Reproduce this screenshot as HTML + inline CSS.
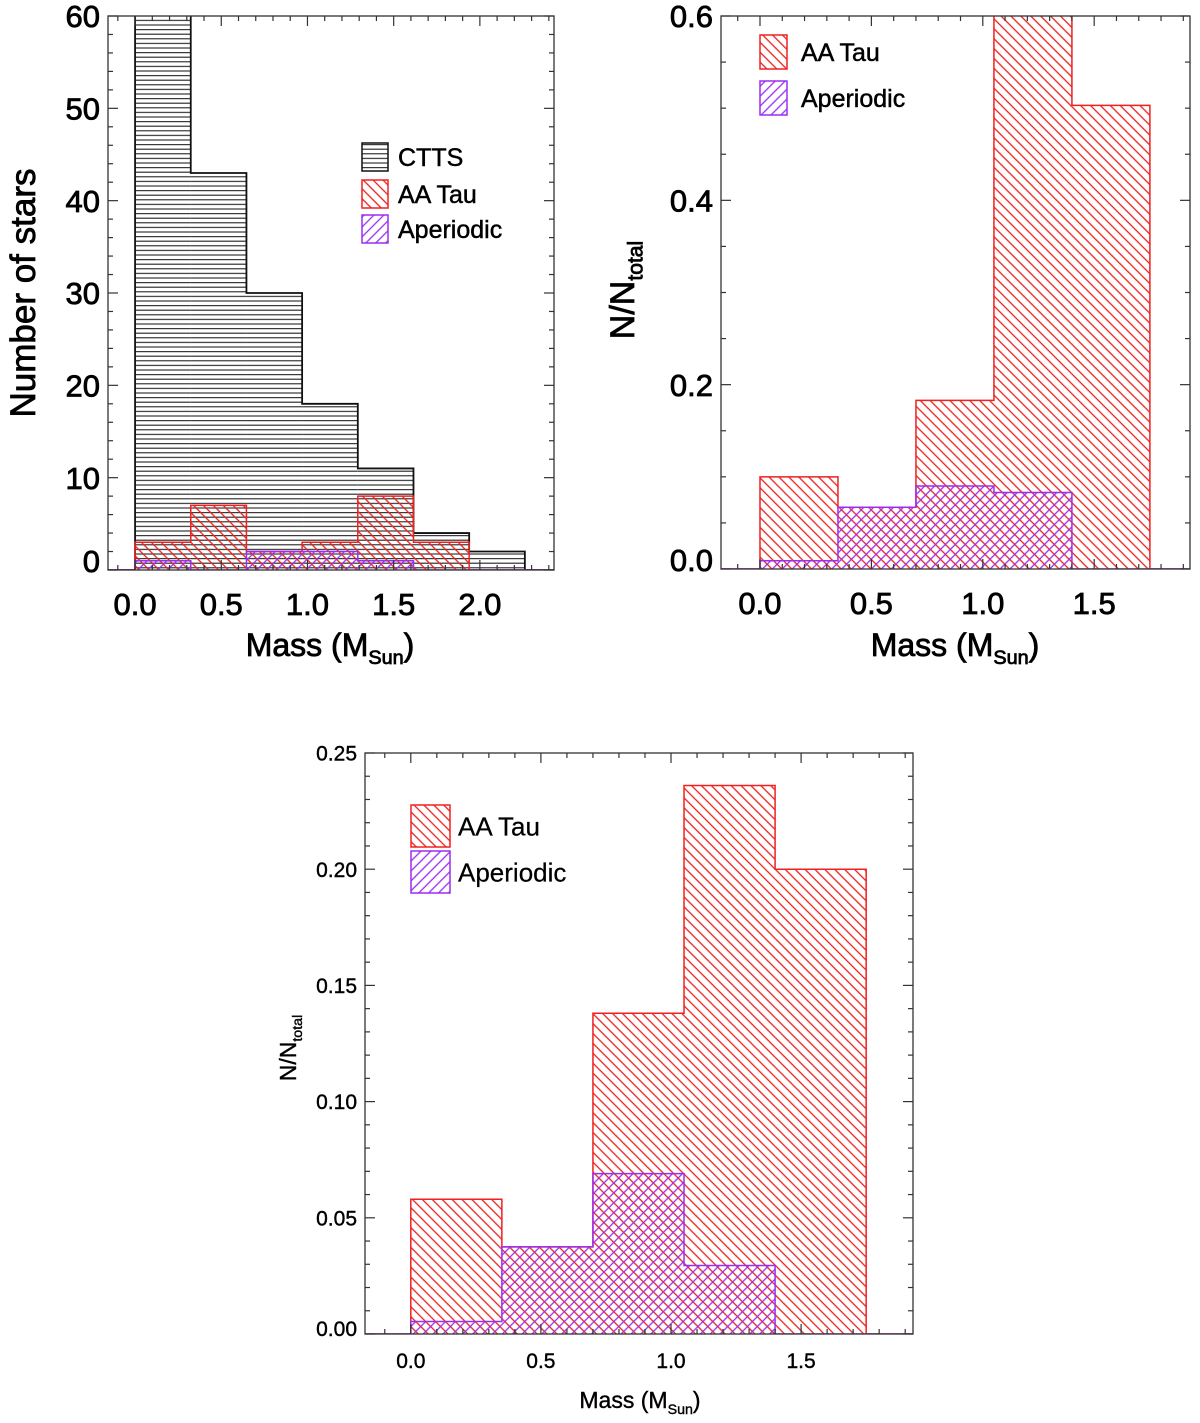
<!DOCTYPE html>
<html><head><meta charset="utf-8"><style>
html,body{margin:0;padding:0;background:#fff;}
svg{display:block;font-family:"Liberation Sans",Arial,sans-serif;}
</style></head><body>
<svg id="fig" width="1200" height="1423" viewBox="0 0 1200 1423" xmlns="http://www.w3.org/2000/svg">
<defs>
<pattern id="hH" patternUnits="userSpaceOnUse" width="8" height="4.6"><line x1="0" y1="2" x2="8" y2="2" stroke="#222" stroke-width="1.1"/></pattern>
<pattern id="hR" patternUnits="userSpaceOnUse" width="7" height="7" patternTransform="rotate(45)"><line x1="0" y1="3.5" x2="7" y2="3.5" stroke="#e8201c" stroke-width="1.3"/></pattern>
<pattern id="hP" patternUnits="userSpaceOnUse" width="7" height="7" patternTransform="rotate(-45)"><line x1="0" y1="3.5" x2="7" y2="3.5" stroke="#9a2ef0" stroke-width="1.3"/></pattern>
</defs>
</svg>
<script>
// Panel A (counts)
const edgesA = [0, 0.323, 0.646, 0.969, 1.292, 1.615, 1.938, 2.261];
const cttsA = [62, 43, 30, 18, 11, 4, 2];
const aatauA = [3, 7, 2, 3, 8, 3, 0];
const aperA = [1, 0, 2, 2, 1, 0, 0];
const yTicksA = [0, 10, 20, 30, 40, 50, 60];
const xTicksA = ["0.0", "0.5", "1.0", "1.5", "2.0"];
// Panel B (fractions)
const edgesB = [0, 0.35, 0.7, 1.05, 1.4, 1.75];
const aatauB = [0.1, 0.067, 0.183, 0.62, 0.503];
const aperB = [0.009, 0.067, 0.09, 0.083, 0];
const yTicksB = ["0.0", "0.2", "0.4", "0.6"];
const xTicksB = ["0.0", "0.5", "1.0", "1.5"];
// Panel C (fractions)
const edgesC = [0, 0.35, 0.7, 1.05, 1.4, 1.75];
const aatauC = [0.058, 0.0375, 0.138, 0.236, 0.2];
const aperC = [0.0054, 0.0375, 0.069, 0.0295, 0];
const yTicksC = ["0.00", "0.05", "0.10", "0.15", "0.20", "0.25"];
const xTicksC = ["0.0", "0.5", "1.0", "1.5"];

const NS = "http://www.w3.org/2000/svg";
const svg = document.getElementById('fig');
function mk(tag, attrs, parent) {
  const e = document.createElementNS(NS, tag);
  for (const k in attrs) e.setAttribute(k, attrs[k]);
  (parent || svg).appendChild(e);
  return e;
}

function panel(p) {
  const g = mk('g', {});
  
  
  const sx = v => p.L + (v - p.x0) / (p.x1 - p.x0) * (p.R - p.L);
  const sy = v => p.B - (v - p.y0) / (p.y1 - p.y0) * (p.B - p.T);
  const clipId = p.name + '-clip';
  const cp = mk('clipPath', { id: clipId }, g);
  mk('rect', { x: p.L, y: p.T, width: p.R - p.L, height: p.B - p.T }, cp);
  const plot = mk('g', { 'clip-path': 'url(#' + clipId + ')' }, g);

  function hist(edges, vals, fill, stroke, sw, nm) {
    const hg = mk('g', {}, plot);
    
    
    for (let i = 0; i < vals.length; i++) {
      if (vals[i] <= 0) continue;
      const x = sx(edges[i]), w = sx(edges[i + 1]) - x;
      const y = sy(vals[i]), h = sy(0) - y;
      const r = mk('rect', { x: x, y: y, width: w, height: h, fill: fill, stroke: 'none' }, hg);
      
      
    }
    let d = 'M' + sx(p.x0) + ' ' + sy(0) + ' L' + sx(edges[0]) + ' ' + sy(0);
    for (let i = 0; i < vals.length; i++) {
      d += ' L' + sx(edges[i]) + ' ' + sy(vals[i]) + ' L' + sx(edges[i + 1]) + ' ' + sy(vals[i]);
    }
    d += ' L' + sx(edges[vals.length]) + ' ' + sy(0) + ' L' + sx(p.x1) + ' ' + sy(0);
    mk('path', { d: d, fill: 'none', stroke: stroke, 'stroke-width': sw }, hg);
  }
  if (p.ctts) hist(p.edges, p.ctts, 'url(#hH)', '#111', 1.8, 'ctts-histogram');
  hist(p.edges, p.aa, 'url(#hR)', '#f02020', 1.5, 'aa-tau-histogram');
  hist(p.edges, p.ap, 'url(#hP)', '#9a2ef0', 1.5, 'aperiodic-histogram');

  mk('rect', { x: p.L, y: p.T, width: p.R - p.L, height: p.B - p.T, fill: 'none', stroke: '#333', 'stroke-width': 1.3 }, g);
  const tk = mk('g', { stroke: '#333', 'stroke-width': 1.2 }, g);
  for (let v = Math.ceil(p.x0 / p.xminor) * p.xminor; v <= p.x1 + 1e-9; v += p.xminor) {
    const isMaj = Math.abs(v / p.xmajor - Math.round(v / p.xmajor)) < 1e-6;
    const len = isMaj ? 10 : 5, x = sx(v);
    mk('line', { x1: x, y1: p.B, x2: x, y2: p.B - len }, tk);
    mk('line', { x1: x, y1: p.T, x2: x, y2: p.T + len }, tk);
  }
  for (let v = p.y0; v <= p.y1 + 1e-9; v += p.yminor) {
    const isMaj = Math.abs(v / p.ymajor - Math.round(v / p.ymajor)) < 1e-6;
    const len = isMaj ? 10 : 5, y = sy(v);
    mk('line', { x1: p.L, y1: y, x2: p.L + len, y2: y }, tk);
    mk('line', { x1: p.R, y1: y, x2: p.R - len, y2: y }, tk);
  }
  p.xlabels.forEach((lab, i) => {
    const t = mk('text', { x: sx(i * p.xmajor), y: p.B + p.xlabOff, 'font-size': p.fs, 'text-anchor': 'middle', fill: '#000', stroke: '#000', 'stroke-width': p.tsw }, g);
    t.textContent = lab;
    
    
  });
  p.ylabels.forEach((lab) => {
    const v = typeof lab === 'number' ? lab : parseFloat(lab);
    const t = mk('text', { x: p.L - 8, y: Math.min(sy(v) + p.fs * 0.36, p.B + 2), 'font-size': p.fs, 'text-anchor': 'end', fill: '#000', stroke: '#000', 'stroke-width': p.tsw }, g);
    t.textContent = String(lab);
    
    
  });
  const xt = mk('text', { x: p.xtX, y: p.xtY, 'font-size': p.tfs, 'text-anchor': 'middle', fill: '#000', stroke: '#000', 'stroke-width': p.tsw }, g);
  xt.innerHTML = 'Mass (M<tspan font-size="' + (p.tfs * 0.62) + '" dy="' + (p.tfs * 0.25) + '">Sun</tspan><tspan dy="' + (-p.tfs * 0.25) + '">)</tspan>';
  
  
  const yt = mk('text', { x: 0, y: 0, 'font-size': p.ytfs, 'text-anchor': 'middle', fill: '#000', stroke: '#000', 'stroke-width': p.tsw, transform: 'translate(' + p.ytX + ',' + p.ytY + ') rotate(-90)' }, g);
  if (p.ytitle === 'N') yt.innerHTML = 'N/N<tspan font-size="' + (p.ytfs * 0.62) + '" dy="' + (p.ytfs * 0.25) + '">total</tspan>';
  else yt.textContent = p.ytitle;
  
  
  const lg = mk('g', {}, g);
  
  
  p.legend.forEach(it => {
    const e = mk('g', {}, lg);
    
    
    mk('rect', { x: p.lgX, y: it.y, width: p.lgW, height: p.lgH, fill: it.fill, stroke: it.stroke, 'stroke-width': 1.5 }, e);
    const t = mk('text', { x: p.lgX + p.lgW + p.lgGap, y: it.y + p.lgH * 0.5 + p.lfs * 0.36, 'font-size': p.lfs, fill: '#000', stroke: '#000', 'stroke-width': p.tsw * 0.6 }, e);
    t.textContent = it.label;
  });
}

panel({ name: 'panel-counts', L: 108, R: 554, T: 16, B: 570, x0: -0.157, x1: 2.43, y0: 0, y1: 60,
  xmajor: 0.5, xminor: 0.1, ymajor: 10, yminor: 2,
  edges: edgesA, ctts: cttsA, aa: aatauA, ap: aperA, xlabels: xTicksA, ylabels: yTicksA,
  fs: 31, tsw: 0.8, xlabOff: 45, tfs: 32, ytfs: 35, xtX: 330, xtY: 656, ytX: 35, ytY: 293, ytitle: 'Number of stars',
  lgX: 362, lgW: 26, lgH: 28, lgGap: 10, lfs: 25,
  legend: [{ y: 143, fill: 'url(#hH)', stroke: '#111', label: 'CTTS' }, { y: 180, fill: 'url(#hR)', stroke: '#f02020', label: 'AA Tau' }, { y: 215, fill: 'url(#hP)', stroke: '#9a2ef0', label: 'Aperiodic' }] });

panel({ name: 'panel-fraction-top', L: 721, R: 1190, T: 16, B: 569, x0: -0.175, x1: 1.93, y0: 0, y1: 0.6,
  xmajor: 0.5, xminor: 0.1, ymajor: 0.2, yminor: 0.05,
  edges: edgesB, aa: aatauB, ap: aperB, xlabels: xTicksB, ylabels: yTicksB,
  fs: 31, tsw: 0.8, xlabOff: 45, tfs: 32, ytfs: 34, xtX: 955, xtY: 656, ytX: 634, ytY: 290, ytitle: 'N',
  lgX: 760, lgW: 27, lgH: 34, lgGap: 14, lfs: 25,
  legend: [{ y: 35, fill: 'url(#hR)', stroke: '#f02020', label: 'AA Tau' }, { y: 81, fill: 'url(#hP)', stroke: '#9a2ef0', label: 'Aperiodic' }] });

panel({ name: 'panel-fraction-bottom', L: 365, R: 913, T: 753, B: 1334, x0: -0.176, x1: 1.93, y0: 0, y1: 0.25,
  xmajor: 0.5, xminor: 0.1, ymajor: 0.05, yminor: 0.01,
  edges: edgesC, aa: aatauC, ap: aperC, xlabels: xTicksC, ylabels: yTicksC,
  fs: 21, tsw: 0.4, xlabOff: 34, tfs: 23, ytfs: 23, xtX: 640, xtY: 1408, ytX: 296, ytY: 1048, ytitle: 'N',
  lgX: 411, lgW: 39, lgH: 42, lgGap: 8, lfs: 26,
  legend: [{ y: 805, fill: 'url(#hR)', stroke: '#f02020', label: 'AA Tau' }, { y: 851, fill: 'url(#hP)', stroke: '#9a2ef0', label: 'Aperiodic' }] });
</script>
</body></html>
